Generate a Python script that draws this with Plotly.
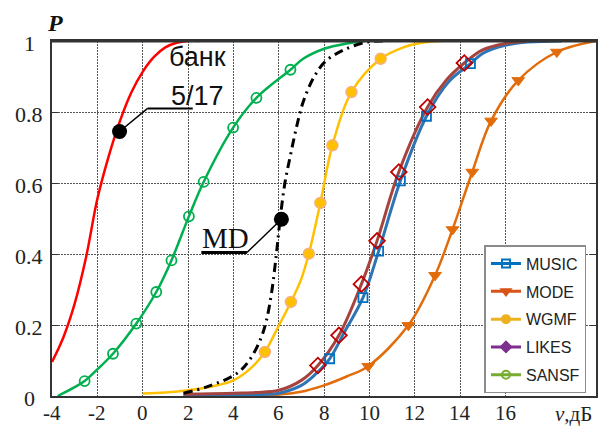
import plotly.graph_objects as go

# ---------------- data ----------------
red_x = [-4, -3.5, -3, -2.5, -2, -1.5, -1, -0.5, 0, 0.5, 1, 1.5, 2, 2.5]
red_y = [0.096, 0.165, 0.26, 0.39, 0.555, 0.675, 0.775, 0.855, 0.913, 0.955, 0.982, 0.995, 1.0, 1.0]

green_x = [-3.75, -3, -2.56, -2, -1.31, -0.28, 0.6, 1.27, 2.04, 2.69, 3.99, 5.02, 6.52, 7.08, 8.04, 9.0, 9.8]
green_y = [0.0, 0.025, 0.042, 0.075, 0.119, 0.204, 0.293, 0.382, 0.506, 0.603, 0.756, 0.84, 0.919, 0.95, 0.979, 0.993, 1.0]
green_mx = [-2.56, -1.31, -0.28, 0.6, 1.27, 2.04, 2.69, 3.99, 5.02, 6.52]
green_my = [0.042, 0.119, 0.204, 0.293, 0.382, 0.506, 0.603, 0.756, 0.84, 0.919]

md_x = [1.8, 2.8, 4.14, 4.7, 5.2, 5.45, 5.68, 5.9, 6.05, 6.27, 6.52, 6.79, 7.08, 7.52, 8.04, 8.84, 9.88, 10.7]
md_y = [0.008, 0.025, 0.063, 0.10, 0.16, 0.21, 0.288, 0.40, 0.49, 0.598, 0.678, 0.758, 0.828, 0.894, 0.941, 0.974, 0.997, 1.0]

yel_x = [0, 1, 2, 3, 4, 4.8, 5.39, 5.9, 6.54, 7.0, 7.33, 7.84, 8.37, 9.21, 10.5, 11.5, 12.3, 13.2]
yel_y = [0.007, 0.01, 0.016, 0.026, 0.044, 0.08, 0.124, 0.185, 0.265, 0.33, 0.401, 0.544, 0.706, 0.856, 0.95, 0.982, 0.995, 1.0]
yel_mx = [5.39, 6.54, 7.33, 7.84, 8.37, 9.21, 10.5]
yel_my = [0.124, 0.265, 0.401, 0.544, 0.706, 0.856, 0.95]

blue_x = [1.8, 3, 4, 5, 6, 7, 7.6, 8.23, 8.9, 9.72, 10.41, 11.37, 12.52, 13.5, 14.46, 15, 16, 17, 18.5]
blue_y = [0.0, 0.001, 0.002, 0.004, 0.008, 0.03, 0.06, 0.103, 0.18, 0.277, 0.408, 0.606, 0.788, 0.885, 0.936, 0.965, 0.988, 0.997, 1.0]
blue_mx = [8.25, 9.72, 10.41, 11.37, 12.52, 14.46]
blue_my = [0.105, 0.277, 0.408, 0.606, 0.788, 0.936]

brown_x = [1.8, 3, 4, 5, 6, 7, 7.73, 8.66, 9.65, 10.34, 11.3, 12.57, 13.4, 14.19, 15, 16, 17]
brown_y = [0.005, 0.006, 0.008, 0.01, 0.016, 0.044, 0.086, 0.171, 0.315, 0.437, 0.631, 0.814, 0.89, 0.938, 0.975, 0.993, 1.0]
dia_mx = [7.73, 8.66, 9.65, 10.34, 11.3, 12.57, 14.19]
dia_my = [0.086, 0.171, 0.315, 0.437, 0.631, 0.814, 0.938]

orng_x = [4.87, 6, 6.93, 8, 9, 9.95, 11.72, 12.9, 13.67, 14.54, 15.37, 16.57, 18.27, 20]
orng_y = [0.0, 0.004, 0.011, 0.03, 0.055, 0.084, 0.199, 0.34, 0.469, 0.631, 0.775, 0.889, 0.969, 1.0]
orng_mx = [9.95, 11.72, 12.9, 13.67, 14.54, 15.37, 16.57, 18.27]
orng_my = [0.084, 0.199, 0.34, 0.469, 0.631, 0.775, 0.889, 0.969]

dots_x = [-1.02, 6.12]
dots_y = [0.745, 0.498]

x_ticks = [-4, -2, 0, 2, 4, 6, 8, 10, 12, 14, 16]
x_ticktext = ["-4", "-2", "0", "2", "4", "6", "8", "10", "12", "14", "16"]
y_ticks = [0, 0.2, 0.4, 0.6, 0.8, 1]
y_ticktext = ["0", "0.2", "0.4", "0.6", "0.8", "1"]

legend_names = ["MUSIC", "MODE", "WGMF", "LIKES", "SANSF"]
legend_colors = ["#0072BD", "#D95319", "#EDB120", "#7E2F8E", "#77AC30"]
legend_symbols = ["square-open", "triangle-down", "circle", "diamond", "circle-open"]

# ---------------- figure ----------------
fig = go.Figure()

def line(x, y, color, width, dash="solid"):
    fig.add_trace(go.Scatter(x=x, y=y, mode="lines", showlegend=False, hoverinfo="skip",
                             line=dict(color=color, width=width, shape="spline", dash=dash)))

def marks(x, y, symbol, size, color, fill=None, lw=1.5):
    fig.add_trace(go.Scatter(x=x, y=y, mode="markers", showlegend=False, hoverinfo="skip",
                             cliponaxis=False,
                             marker=dict(symbol=symbol, size=size, color=fill if fill else color,
                                         line=dict(color=color, width=lw))))

line(red_x, red_y, "#FF0000", 2.5)
line(green_x, green_y, "#00B050", 2.5)
line(yel_x, yel_y, "#FFC000", 2.5)
line(orng_x, orng_y, "#E36C0A", 2.5)
line(blue_x, blue_y, "#2E75B6", 3)
line(brown_x, brown_y, "#A5443E", 3)
line(md_x, md_y, "#000000", 3, dash="9px,5px,2px,5px")

marks(green_mx, green_my, "circle-open", 10, "#00B050", lw=1.8)
marks(yel_mx, yel_my, "circle", 11, "#F4B183", fill="#FFC000", lw=1.5)
marks(blue_mx, blue_my, "square-open", 9, "#0070C0", lw=1.8)
marks(dia_mx, dia_my, "diamond-open", 12, "#C00000", lw=1.8)
marks(orng_mx, orng_my, "triangle-down", 11, "#E36C0A", fill="#E36C0A", lw=1)

fig.add_trace(go.Scatter(x=dots_x, y=dots_y, mode="markers", showlegend=False, hoverinfo="skip",
                         cliponaxis=False, marker=dict(size=15, color="black")))

for name, col, sym in zip(legend_names, legend_colors, legend_symbols):
    fig.add_trace(go.Scatter(x=[None], y=[None], mode="lines+markers", name=name,
                             legendgroup=name,
                             line=dict(color=col, width=3),
                             marker=dict(symbol=sym, size=8, color=col, line=dict(color=col, width=2))))

# leader lines
shapes = [
    dict(type="line", xref="x", yref="y", x0=2.21, y0=0.81, x1=0.22, y1=0.81, line=dict(color="black", width=2)),
    dict(type="line", xref="x", yref="y", x0=0.22, y0=0.81, x1=-1.02, y1=0.745, line=dict(color="black", width=1.5)),
    dict(type="line", xref="x", yref="y", x0=2.59, y0=0.404, x1=4.6, y1=0.404, line=dict(color="black", width=3)),
    dict(type="line", xref="x", yref="y", x0=4.6, y0=0.404, x1=6.12, y1=0.498, line=dict(color="black", width=1.5)),
    dict(type="line", xref="paper", yref="paper", x0=0, y0=1, x1=1, y1=1, line=dict(color="#333333", width=3)),
]

tick_font = dict(family="Liberation Serif", size=21, color="#222222")
annotations = []
for v, t in zip(y_ticks, y_ticktext):
    annotations.append(dict(xref="paper", yref="y", x=0, y=v, xshift=-23, yshift=-2, text=t,
                            showarrow=False, xanchor="center", yanchor="middle",
                            font=dict(family="Liberation Serif", size=22, color="#222222")))
for v, t in zip(x_ticks, x_ticktext):
    annotations.append(dict(xref="x", yref="paper", x=v, y=0, yshift=-17, text=t,
                            showarrow=False, xanchor="center", yanchor="middle",
                            font=tick_font))
annotations += [
    dict(xref="x", yref="y", x=2.43, y=0.954, text="банк", showarrow=False,
         xanchor="center", yanchor="middle",
         font=dict(family="Liberation Sans", size=27, color="#111111")),
    dict(xref="x", yref="y", x=2.43, y=0.844, text="5/17", showarrow=False,
         xanchor="center", yanchor="middle",
         font=dict(family="Liberation Sans", size=27, color="#111111")),
    dict(xref="x", yref="y", x=3.66, y=0.444, text="MD", showarrow=False,
         xanchor="center", yanchor="middle",
         font=dict(family="Liberation Serif", size=29, color="#111111")),
    dict(xref="paper", yref="paper", x=0.0055, y=1.05, text="<b><i>P</i></b>", showarrow=False,
         xanchor="center", yanchor="middle",
         font=dict(family="Liberation Serif", size=24, color="#111111")),
    dict(xref="paper", yref="paper", x=1.0, y=0, yshift=-18, xshift=-2, text="<i>ν</i>,дБ",
         showarrow=False, xanchor="right", yanchor="middle", font=tick_font),
]

fig.update_layout(
    width=602, height=426,
    margin=dict(l=52, r=6, t=41, b=30, autoexpand=False),
    paper_bgcolor="white", plot_bgcolor="white",
    showlegend=True,
    legend=dict(x=0.795, y=0.425, xanchor="left", yanchor="top",
                bgcolor="white", bordercolor="#8c8c8c", borderwidth=1.5,
                font=dict(family="Liberation Sans", size=16, color="#222222"),
                tracegroupgap=4, itemwidth=30),
    shapes=shapes,
    annotations=annotations,
)

fig.update_xaxes(range=[-4, 20], tickvals=x_ticks, showticklabels=False,
                 showgrid=True, gridcolor="#555555", griddash="2px,1px", gridwidth=1,
                 showline=True, linecolor="#333333", linewidth=2, mirror=True,
                 ticks="", zeroline=False, automargin=False)
fig.update_yaxes(range=[0, 1], tickvals=y_ticks, showticklabels=False, automargin=False,
                 showgrid=True, gridcolor="#555555", griddash="2px,1px", gridwidth=1,
                 showline=True, linecolor="#333333", linewidth=1.5, mirror="ticks",
                 ticks="inside", ticklen=6, tickcolor="#333333", zeroline=False)

fig.write_html("out.html")
